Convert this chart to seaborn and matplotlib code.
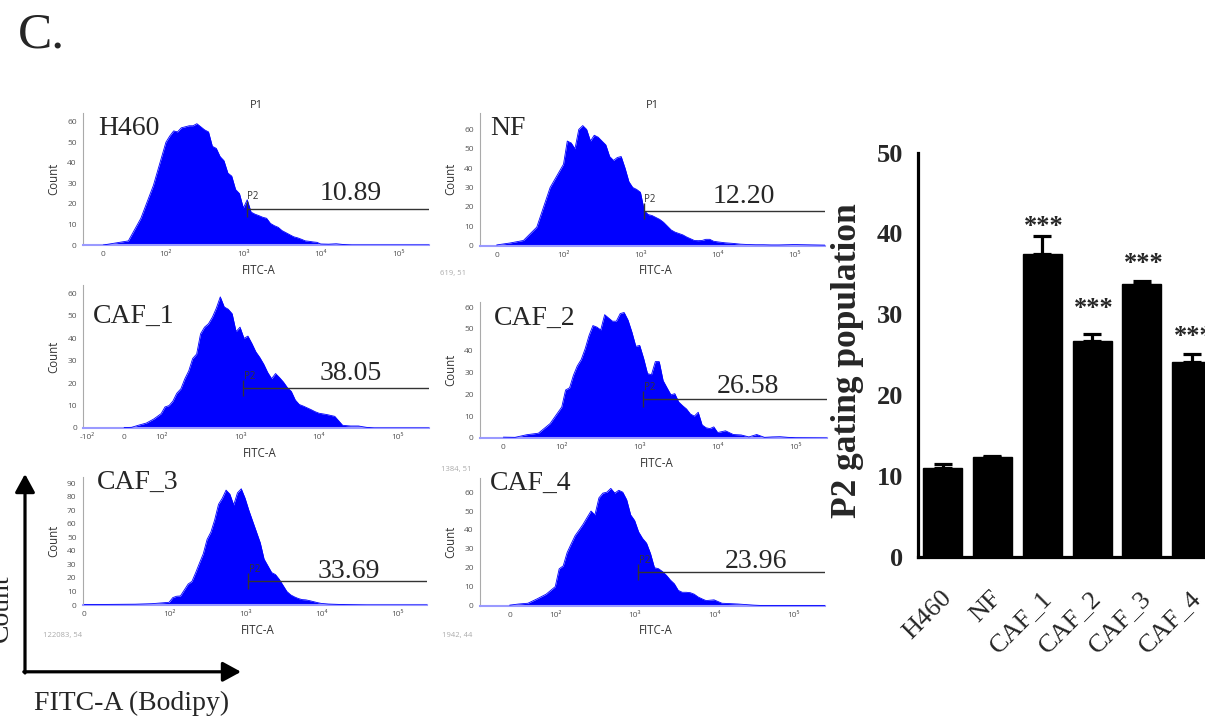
import matplotlib
matplotlib.use("Agg")
import numpy as np
import pandas as pd
import matplotlib.pyplot as plt
import seaborn as sns
from matplotlib.patches import FancyArrowPatch
from matplotlib.transforms import ScaledTranslation

W, H = 1205, 723
DPI = 100

# ---------------- data ----------------
fitc_grid = [0, 20, 40, 60, 80, 100,
             112, 126, 141, 158, 178, 200, 224, 251, 282, 316,
             355, 398, 447, 501, 562, 631, 708, 794, 891, 1000,
             1122, 1259, 1413, 1585, 1778, 1995, 2239, 2512, 2818, 3162,
             3548, 3981, 4467, 5012, 5623, 6310, 7079, 7943, 8913, 10000,
             12589, 15849, 19953, 25119, 31623, 39811, 50119, 63096, 79433, 100000, 250000]

counts_h460 = [0, 1, 2, 13, 29, 50,
               53, 55.5, 55, 57, 57.5, 58, 58, 59, 57.5, 56,
               55, 48, 47, 43, 41, 35, 33.5, 27, 25, 18,
               22, 16, 15, 14.3, 13.5, 13, 10.5, 9.4, 8.6, 7,
               6, 5, 4, 3.5, 2.8, 2, 1.8, 1.5, 1.3, 0.5,
               0.4, 0.6, 0.2, 0, 0, 0, 0, 0, 0, 0, 0]
counts_nf = [0.3, 1.3, 2.6, 9.5, 30, 42,
             54, 53, 50, 60, 62, 60, 54, 57, 56, 54,
             52, 46, 44, 45.5, 46, 40, 33, 30, 29, 27.5,
             18, 16, 15.5, 14.5, 13.5, 12, 10, 8, 6.9, 6.2,
             5.5, 4.4, 3.5, 2.6, 2.5, 2.6, 3.2, 3.2, 2.2, 1.9,
             1.4, 1.1, 0.7, 0.5, 0.4, 0.4, 0.3, 0.3, 0.4, 0.5, 0.2]
counts_caf1 = [0.2, 0.3, 1.3, 2.2, 4, 6.4,
               9.4, 10, 12, 15.5, 17.5, 22, 25.5, 31, 33, 42,
               45, 46.5, 49.5, 53.5, 58.5, 54, 53, 51, 43, 45,
               40, 41, 37.7, 34, 31.5, 28.5, 24.8, 22, 24.3, 22.5,
               20.5, 18, 16.3, 12.5, 10.5, 9.8, 9, 8.2, 7.3, 6.6,
               6, 5.2, 1.2, 0.9, 0.9, 0.3, 0, 0, 0, 0, 0]
counts_caf2 = [0.4, 0.3, 1.5, 2.2, 6.6, 14.2,
               22, 23, 28.7, 33, 36, 41, 47, 51.5, 50.8, 49.5,
               56.5, 55, 53.5, 53.5, 57, 57.5, 54, 48.5, 42, 42.4,
               36.5, 29.5, 29, 35, 35, 26.3, 23, 19.8, 20.3, 16.5,
               14.8, 13.3, 11, 10, 11.8, 6, 4.7, 4.3, 5.1, 2.5,
               3.3, 1.6, 1.4, 0.5, 1.6, 0.3, 0.5, 0.6, 0.3, 0.1, 0]
counts_caf3 = [0.3, 0.4, 0.5, 0.6, 1, 2,
               5.5, 6.5, 6.7, 11, 15.5, 17.5, 24, 31, 38, 48.5,
               54, 63, 74.5, 79, 85, 82, 74, 83, 86, 79,
               70, 62, 54, 46, 34, 29, 24, 22.5, 19, 14.5,
               10, 7.5, 6, 4.8, 4, 3.8, 3.2, 2.5, 1.8, 1.2,
               0.7, 0.5, 0.3, 0.2, 0.1, 0, 0, 0, 0, 0, 0]
counts_caf4 = [0.2, 0.8, 1.2, 3.5, 6, 10,
               19.4, 21, 28, 32.5, 37, 40, 43, 46.5, 50, 48,
               57, 59.5, 60, 62, 59.5, 61, 60, 56, 48, 45,
               39, 35.5, 33, 27.5, 20, 19.5, 18, 16, 13.5, 11.5,
               8, 7, 7, 6.8, 6, 4.5, 3.5, 2.6, 2.8, 3,
               1.2, 1, 0.8, 0.5, 0.2, 0, 0, 0, 0, 0, 0]

panel_names = ["H460", "NF", "CAF_1", "CAF_2", "CAF_3", "CAF_4"]
panel_counts = [counts_h460, counts_nf, counts_caf1, counts_caf2, counts_caf3, counts_caf4]
gate_percent = [10.89, 12.20, 38.05, 26.58, 33.69, 23.96]
gate_start = 1100
gate_level = 17.7
event_labels = ["619, 51", "1384, 51", "122083, 54", "1942, 44"]

bar_groups = ["H460", "NF", "CAF_1", "CAF_2", "CAF_3", "CAF_4"]
bar_values = [11.0, 12.3, 37.5, 26.7, 33.8, 24.1]
bar_errors = [0.5, 0.2, 2.2, 0.9, 0.3, 1.0]
sig_labels = ["", "", "***", "***", "***", "***"]

# ---------------- layout (pixels) ----------------
# left, right, top, bottom, linscale, xmin, ymax, has_negative_tick
panel_layout = [
    (83.0, 429.0, 113.0, 245.0, 0.728, -32.4, 64.2, False),
    (480.0, 825.0, 113.0, 245.5, 0.781, -25.0, 68.5, False),
    (83.3, 429.3, 285.0, 428.0, 0.422, -111.7, 63.8, True),
    (480.0, 826.7, 302.0, 438.0, 0.674, -40.0, 62.3, False),
    (82.7, 427.3, 477.0, 605.0, 1.004, -1.9, 94.7, False),
    (480.0, 825.0, 478.0, 605.5, 0.517, -65.0, 67.5, False),
]
name_pos = [(98.3, 135), (490, 135), (93, 322.7), (494, 325), (96.7, 489.3), (490, 490)]
pct_pos = [(320, 200), (713, 203), (320, 380), (716.7, 393), (318, 578.3), (725, 568.3)]
event_pos = [(440, 274), (441, 469), (43, 635), (442, 635)]
star_heights = [None, None, 40.0, 29.9, 35.5, 26.4]

SERIF = ["Liberation Serif", "DejaVu Serif"]
SANS = ["Open Sans", "DejaVu Sans"]
BLUE = "#0000ff"


def fx(x):
    return x / W


def fy(y):
    return 1 - y / H


sns.set_style("white")
plt.rcParams["font.family"] = SERIF

fig = plt.figure(figsize=(W / DPI, H / DPI), dpi=DPI)

XMAX = 250000
for i, (l, r, t, b, lins, xmin, ymax, neg) in enumerate(panel_layout):
    ax = fig.add_axes([fx(l), fy(b), (r - l) / W, (b - t) / H])
    ax.set_xscale("symlog", linthresh=100, linscale=lins, base=10)
    ax.fill_between(fitc_grid, panel_counts[i], 0, color=BLUE, lw=0, zorder=2)
    sns.lineplot(x=fitc_grid, y=panel_counts[i], color=BLUE, lw=0.6, ax=ax,
                 legend=False, zorder=3)
    ax.set_xlim(xmin, XMAX)
    ax.set_ylim(0, ymax)

    major = [0, 100, 1000, 10000, 100000]
    labels = ["0", "10²", "10³", "10⁴", "10⁵"]
    if neg:
        major = [-100] + major
        labels = ["-10²"] + labels
    ax.set_xticks(major, labels)
    minors = [m * 10 ** k for k in (1, 2, 3, 4) for m in range(2, 10)] + [200000]
    if neg:
        minors += [-m * 10 for m in range(2, 10)]
    minors = [v for v in minors if xmin < v < XMAX]
    ax.set_xticks(minors, minor=True)
    ax.set_yticks(list(range(0, int(ymax) + 1, 10)))
    ax.set_yticks(list(range(0, int(ymax) + 1, 2)), minor=True)

    ax.tick_params(axis="both", which="major", length=3, width=0.6, color="#999999",
                   labelsize=6, labelcolor="#555555", pad=1.5)
    ax.tick_params(axis="both", which="minor", length=1.6, width=0.5, color="#aaaaaa")
    for lbl in ax.get_xticklabels() + ax.get_yticklabels():
        lbl.set_family(SANS)

    for s in ("top", "right"):
        ax.spines[s].set_visible(False)
    ax.spines["left"].set_color("#aaaaaa")
    ax.spines["left"].set_linewidth(0.8)
    ax.spines["bottom"].set_color("#9a9aff")
    ax.spines["bottom"].set_linewidth(1.5)
    ax.set_facecolor("white")
    ax.grid(False)

    ax.set_ylabel("Count", fontsize=8.3, family=SANS, color="#333333")
    ax.yaxis.set_label_coords(-0.066, 0.5)
    ax.set_xlabel("FITC-A", fontsize=8.3, family=SANS, color="#333333")
    ax.xaxis.set_label_coords(0.509, -19.0 / (b - t))
    if i < 2:
        ax.set_title("P1", fontsize=8, family=SANS, color="#333333", pad=3.5)

    # gate P2
    ax.plot([gate_start, XMAX], [gate_level, gate_level], color="#333333", lw=1.0, zorder=4)
    ax.plot([gate_start], [gate_level], marker="|", markersize=11, mew=1.0,
            color="#333333", zorder=4)
    ax.annotate("P2", (gate_start, gate_level), xytext=(0.5, 4.5), textcoords="offset points",
                fontsize=7, family=SANS, color="#333333", ha="left", va="bottom")

    fig.text(fx(name_pos[i][0]), fy(name_pos[i][1]), panel_names[i], fontsize=20,
             family=SERIF, ha="left", va="baseline")
    fig.text(fx(pct_pos[i][0]), fy(pct_pos[i][1]), f"{gate_percent[i]:.2f}", fontsize=20,
             family=SERIF, ha="left", va="baseline")

for (ex, ey), txt in zip(event_pos, event_labels):
    fig.text(fx(ex), fy(ey), txt, fontsize=5.5, family=SANS, color="#aaaaaa",
             ha="left", va="center")

# panel letter
fig.text(fx(18), fy(47.5), "C.", fontsize=37, family=SERIF, ha="left", va="baseline")

# axis arrows
arrow_style = "-|>,head_length=1.1,head_width=0.6"
fig.add_artist(FancyArrowPatch((fx(25), fy(673)), (fx(25), fy(474)), transform=fig.transFigure,
                               arrowstyle=arrow_style, mutation_scale=10, lw=2.3,
                               color="black", shrinkA=0, shrinkB=0))
fig.add_artist(FancyArrowPatch((fx(23.8), fy(671.8)), (fx(241), fy(671.8)), transform=fig.transFigure,
                               arrowstyle=arrow_style, mutation_scale=10, lw=2.3,
                               color="black", shrinkA=0, shrinkB=0))
fig.text(fx(13.5), fy(608), "Count", rotation=90, fontsize=20, family=SERIF,
         ha="right", va="center")
fig.text(fx(131.5), fy(710), "FITC-A (Bodipy)", fontsize=20, family=SERIF,
         ha="center", va="baseline")

# ---------------- bar chart ----------------
bl, bb, bt = 917.6, 556.6, 152.7
axb = fig.add_axes([fx(bl), fy(bb), (W - bl) / W, (bb - bt) / H])
df = pd.DataFrame({"group": bar_groups, "value": bar_values})
sns.barplot(data=df, x="group", y="value", color="black", saturation=1, width=0.78,
            edgecolor="black", linewidth=1, errorbar=None, ax=axb)
axb.errorbar(np.arange(len(bar_values)), bar_values,
             yerr=[np.zeros(len(bar_errors)), bar_errors], fmt="none",
             ecolor="black", elinewidth=2.3, capsize=6.3, capthick=2.3, zorder=5)
axb.set_xlim(-0.5, -0.5 + (W - bl) / 49.85)
axb.set_ylim(0, 50)
axb.set_facecolor("white")
axb.grid(False)
for s in ("top", "right"):
    axb.spines[s].set_visible(False)
for s in ("left", "bottom"):
    axb.spines[s].set_linewidth(2.3)
    axb.spines[s].set_color("black")
axb.set_yticks([0, 10, 20, 30, 40, 50])
axb.set_yticklabels(["0", "10", "20", "30", "40", "50"], fontsize=19, fontweight="bold",
                    family=SERIF)
axb.set_xticks(range(len(bar_groups)))
axb.set_xticklabels(bar_groups, rotation=45, ha="right", va="top", rotation_mode="anchor",
                    fontsize=19, family=SERIF)
axb.tick_params(axis="both", direction="out", length=7.2, width=2.2, color="black")
axb.tick_params(axis="y", pad=3)
axb.tick_params(axis="x", pad=9)
shift = ScaledTranslation(-2 / DPI, -8 / DPI, fig.dpi_scale_trans)
for lbl in axb.get_xticklabels():
    lbl.set_transform(lbl.get_transform() + shift)
axb.set_xlabel("")
axb.set_ylabel("P2 gating population", fontsize=25.5, fontweight="bold", family=SERIF)
axb.yaxis.set_label_coords(-0.1848, 0.4848)
for i, s in enumerate(sig_labels):
    if s:
        axb.text(i + 0.04, star_heights[i], s, ha="center", va="baseline", fontsize=19,
                 fontweight="bold", family=SERIF, clip_on=False)

fig.savefig("out.png", dpi=DPI)
